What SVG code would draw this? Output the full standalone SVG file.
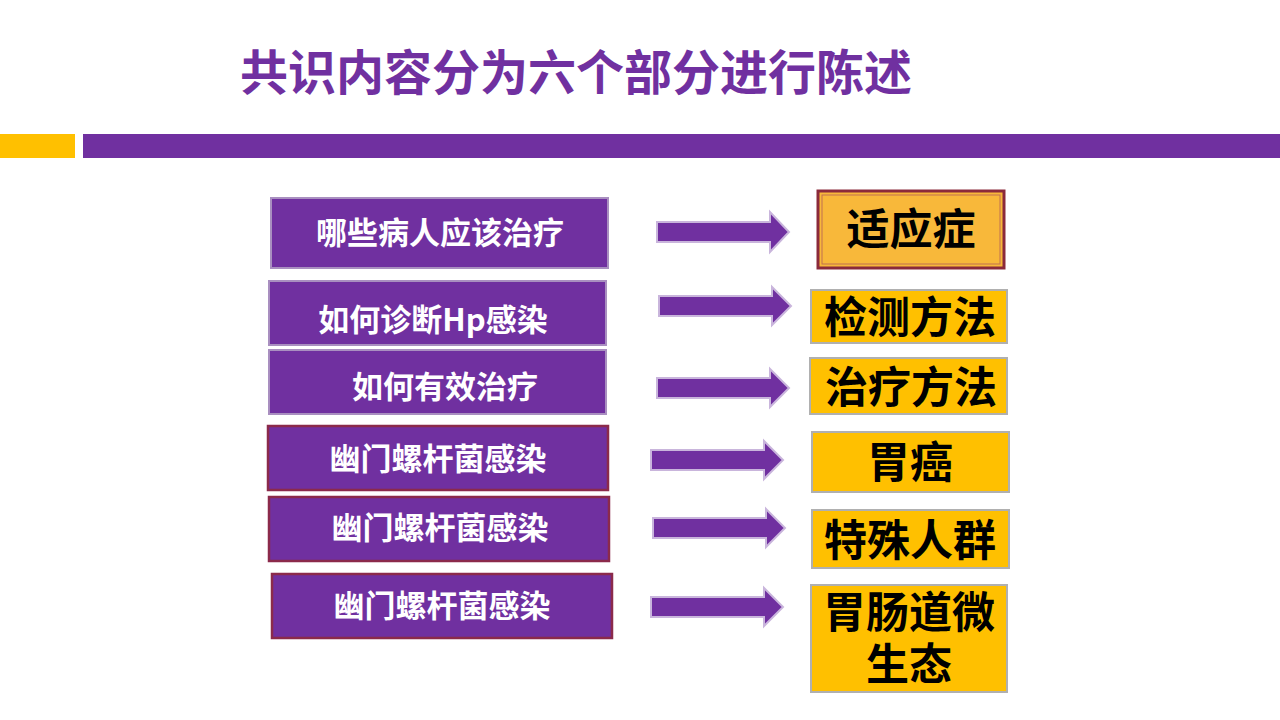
<svg xmlns="http://www.w3.org/2000/svg" width="1280" height="720" viewBox="0 0 1280 720">
<defs><style>
.l{fill:#7030a0;stroke:#a98fc0;stroke-width:2}
.l2{fill:#7030a0;stroke:#8b2a4b;stroke-width:2.5}
.lt{fill:#fff;font-family:"Noto Sans CJK SC",sans-serif;font-weight:bold;font-size:31px;text-anchor:middle}
.r{fill:#ffc000;stroke:#b0b0b0;stroke-width:2}
.rt{fill:#000;font-family:"Noto Sans CJK SC",sans-serif;font-weight:bold;font-size:43px;text-anchor:middle}
.a{fill:#7030a0;stroke:#c9b5dc;stroke-width:2}
</style></defs>
<rect width="1280" height="720" fill="#fff"/>
<text x="576" y="90" font-family="Noto Sans CJK SC,sans-serif" font-weight="bold" font-size="48" fill="#7030a0" text-anchor="middle">共识内容分为六个部分进行陈述</text>
<rect x="0" y="134" width="75" height="24" fill="#ffc000"/>
<rect x="83" y="134" width="1197" height="24" fill="#7030a0"/>
<g id="n1"><rect class="l" x="271" y="198" width="337" height="70"/><text class="lt" x="440" y="244">哪些病人应该治疗</text></g>
<g id="n2"><rect class="l" x="269" y="281" width="337" height="64"/><text class="lt" x="433" y="331">如何诊断Hp感染</text></g>
<g id="n3"><rect class="l" x="269" y="350" width="337" height="64"/><text class="lt" x="445" y="398">如何有效治疗</text></g>
<g id="n4"><rect class="l2" x="268" y="426" width="340" height="64"/><text class="lt" x="438" y="470">幽门螺杆菌感染</text></g>
<g id="n5"><rect class="l2" x="269" y="497" width="340" height="64"/><text class="lt" x="440" y="539">幽门螺杆菌感染</text></g>
<g id="n6"><rect class="l2" x="272" y="574" width="340" height="64"/><text class="lt" x="442" y="617">幽门螺杆菌感染</text></g>
<g id="r1"><rect x="818" y="191" width="186" height="77" fill="#f8b83a" stroke="#8b2a3b" stroke-width="3"/><rect x="822" y="195" width="178" height="69" fill="none" stroke="#c07050" stroke-width="1"/><text class="rt" x="911" y="245">适应症</text></g>
<g id="r2"><rect class="r" x="811" y="290" width="196" height="53"/><text class="rt" x="910" y="333">检测方法</text></g>
<g id="r3"><rect class="r" x="810" y="358" width="197" height="56"/><text class="rt" x="911" y="403">治疗方法</text></g>
<g id="r4"><rect class="r" x="812" y="432" width="197" height="60"/><text class="rt" x="910" y="478">胃癌</text></g>
<g id="r5"><rect class="r" x="812" y="510" width="197" height="58"/><text class="rt" x="910" y="556">特殊人群</text></g>
<g id="r6"><rect class="r" x="811" y="585" width="196" height="107"/><text class="rt" x="909" y="628">胃肠道微</text><text class="rt" x="909" y="680">生态</text></g>
<g id="connectors">
<path class="a" d="M657,222H770V212L789,232L770,252V242H657Z"/>
<path class="a" d="M659,296H772V287L791,306L772,325V316H659Z"/>
<path class="a" d="M657,378H770V369L789,388L770,407V398H657Z"/>
<path class="a" d="M651,450H764V441L783,460L764,479V470H651Z"/>
<path class="a" d="M653,518H766V509L785,528L766,547V538H653Z"/>
<path class="a" d="M651,597H764V588L783,607L764,626V617H651Z"/>
</g>
</svg>
